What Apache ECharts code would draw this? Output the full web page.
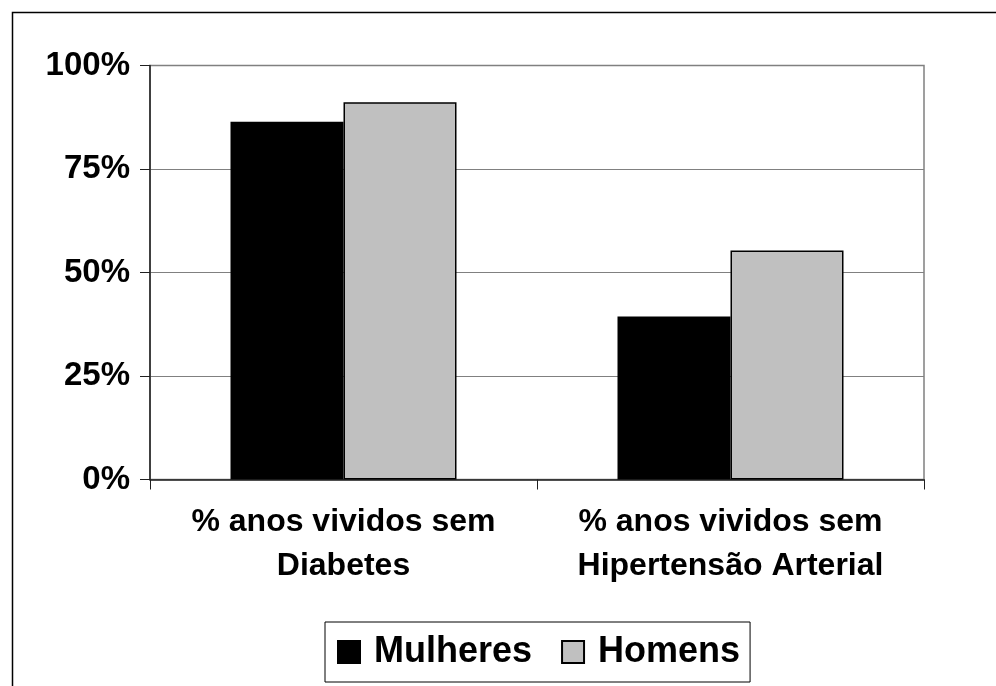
<!DOCTYPE html>
<html>
<head>
<meta charset="utf-8">
<script src="https://cdn.jsdelivr.net/npm/echarts@6/dist/echarts.min.js"></script>
<style>html,body{margin:0;padding:0;background:#fff}#c{width:996px;height:686px}</style>
</head>
<body>
<div id="c"></div>
<script>
const categories = ['% anos vividos sem\nDiabetes', '% anos vividos sem\nHipertensão Arterial'];
const mulheres = [0.864, 0.394];
const homens = [0.911, 0.553];
const yTicks = [0, 0.25, 0.5, 0.75, 1];
const seriesNames = ['Mulheres', 'Homens'];

const FONT = '"Liberation Sans", Arial, sans-serif';
const chart = echarts.init(document.getElementById('c'), null, {renderer: 'canvas'});
chart.setOption({
  animation: false,
  backgroundColor: '#fff',
  graphic: [{
    type: 'rect', left: 10, top: 10, shape: {width: 2000, height: 2000},
    style: {fill: 'none', stroke: '#000', lineWidth: 1.5}, silent: true, z: -1
  }],
  grid: {left: 150, right: 72, top: 65.5, bottom: 206.5, show: true, borderColor: '#808080', borderWidth: 1.5, backgroundColor: '#fff'},
  legend: {
    left: 325, top: 622,
    padding: [12, 10, 12, 12],
    borderColor: '#000', borderWidth: 1,
    itemWidth: 22, itemHeight: 22, itemGap: 29,
    icon: 'rect',
    textStyle: {fontFamily: FONT, fontWeight: 'bold', fontSize: 36, color: '#000', padding: [0, 0, 0, 9]},
    data: seriesNames
  },
  xAxis: {
    type: 'category', data: categories,
    axisLine: {lineStyle: {color: '#202020', width: 1.5}},
    axisTick: {show: true, interval: 0, length: 10, lineStyle: {color: '#202020', width: 1}},
    axisLabel: {interval: 0, fontFamily: FONT, fontWeight: 'bold', fontSize: 32, color: '#000', lineHeight: 44, margin: 21}
  },
  yAxis: {
    type: 'value', min: 0, max: 1, interval: 0.25,
    axisLine: {show: true, lineStyle: {color: '#202020', width: 1.5}},
    axisTick: {show: true, length: 10, lineStyle: {color: '#202020', width: 1}},
    splitLine: {lineStyle: {color: '#808080', width: 1}},
    axisLabel: {fontFamily: FONT, fontWeight: 'bold', fontSize: 33, color: '#000', margin: 20,
      formatter: v => Math.round(v * 100) + '%'},
    data: yTicks
  },
  series: [
    {name: seriesNames[0], type: 'bar', data: mulheres, barWidth: 113, barGap: '0%',
      itemStyle: {color: '#000', borderColor: '#000', borderWidth: 1.5}},
    {name: seriesNames[1], type: 'bar', data: homens, barWidth: 113, barGap: '0%',
      itemStyle: {color: '#c0c0c0', borderColor: '#000', borderWidth: 1.5}}
  ]
});
</script>
</body>
</html>
